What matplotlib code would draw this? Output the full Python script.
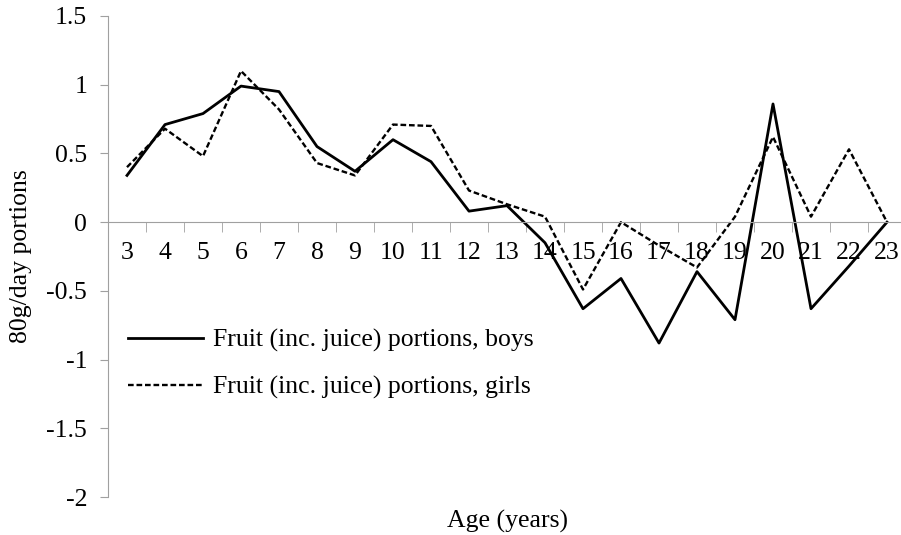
import matplotlib
matplotlib.use("Agg")
import matplotlib.pyplot as plt
import numpy as np

plt.rcParams['font.family'] = ['Liberation Serif', 'DejaVu Serif']

ages = [3, 4, 5, 6, 7, 8, 9, 10, 11, 12, 13, 14, 15, 16, 17, 18, 19, 20, 21, 22, 23]
boys = [0.34, 0.71, 0.79, 0.99, 0.95, 0.55, 0.37, 0.60, 0.44, 0.08, 0.12, -0.15, -0.63,
        -0.41, -0.88, -0.36, -0.71, 0.86, -0.63, -0.32, 0.0]
girls = [0.40, 0.68, 0.48, 1.10, 0.82, 0.43, 0.34, 0.71, 0.70, 0.23, 0.13, 0.04, -0.49,
         0.0, -0.17, -0.33, 0.04, 0.62, 0.04, 0.53, 0.0]
yticks = [-2, -1.5, -1, -0.5, 0, 0.5, 1, 1.5]
ytick_labels = ['-2', '-1.5', '-1', '-0.5', '0', '0.5', '1', '1.5']

fs = 18.5

fig = plt.figure(figsize=(9.01, 5.35), dpi=100)
ax = fig.add_axes([108 / 901, 1 - 497 / 535, 798 / 901, (497 - 16) / 535])

x = np.arange(len(ages))
ax.plot(x, boys, color='black', lw=2.0, ls='-', label='Fruit (inc. juice) portions, boys')
ax.plot(x, girls, color='black', lw=1.7, ls=(0, (2.4, 1.2)), label='Fruit (inc. juice) portions, girls')

ax.set_xlim(-0.5, len(ages) - 0.5)
ax.set_ylim(-2, 1.5)

ax.spines['top'].set_visible(False)
ax.spines['right'].set_visible(False)
ax.spines['bottom'].set_position(('data', 0))
ax.spines['bottom'].set_color('#a0a0a0')
ax.spines['left'].set_color('#a0a0a0')

ax.set_yticks(yticks)
ax.set_yticklabels(ytick_labels)
ax.tick_params(axis='y', direction='out', length=6, color='#a0a0a0', labelsize=fs, pad=9)

ax.set_xticks(x)
ax.set_xticklabels([str(a) for a in ages])
ax.set_xticks(np.arange(len(ages) + 1) - 0.5, minor=True)
ax.tick_params(axis='x', which='major', length=0, labelsize=fs, pad=14)
ax.tick_params(axis='x', which='minor', direction='out', length=7, color='#a0a0a0')

ax.set_ylabel('80g/day portions', fontsize=fs)
ax.yaxis.set_label_coords(-0.095, 0.5)
ax.set_xlabel('Age (years)', fontsize=fs)
ax.xaxis.set_label_coords(0.5, -0.027)

ax.legend(loc='upper left', bbox_to_anchor=(128 / 901, 1 - 329 / 535),
          bbox_transform=fig.transFigure, frameon=False, fontsize=fs,
          handlelength=2.9, handletextpad=0.4, labelspacing=0.9,
          borderpad=0, borderaxespad=0)

fig.savefig('out.png', dpi=100)
